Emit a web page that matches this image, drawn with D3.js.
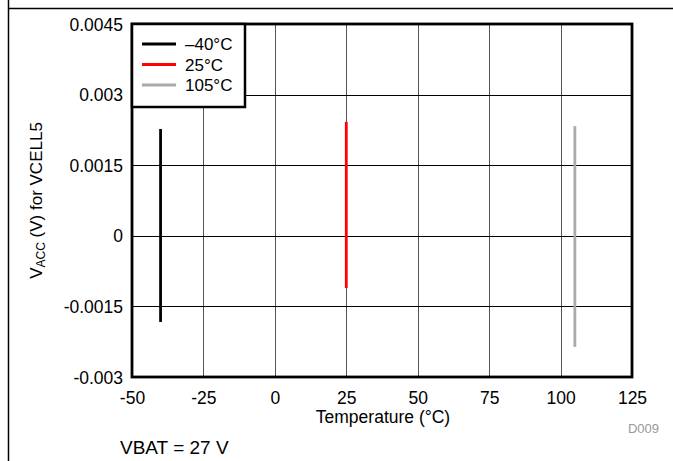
<!DOCTYPE html>
<html><head><meta charset="utf-8">
<script src="https://cdn.jsdelivr.net/npm/d3@7"></script>
<style>body{margin:0;background:#fff;} svg{display:block;font-family:"Liberation Sans",Arial,sans-serif;}</style>
</head><body>
<svg id="c" width="673" height="461"></svg>
<script>
const seriesNames = ["\u201340\u00B0C", "25\u00B0C", "105\u00B0C"];
const seriesColors = ["#000000", "#ff0000", "#aaaaaa"];
const temperatures = [-40, 25, 105];
const minValues = [-0.00183, -0.00111, -0.00236];
const maxValues = [0.00227, 0.00242, 0.00233];
const xTicks = [-50, -25, 0, 25, 50, 75, 100, 125];
const yTicks = [-0.003, -0.0015, 0, 0.0015, 0.003, 0.0045];
const yTickLabels = ["-0.003", "-0.0015", "0", "0.0015", "0.003", "0.0045"];

const svg = d3.select("#c");
const L = 132, R = 632, T = 24, B = 377;
const x = d3.scaleLinear().domain([-50, 125]).range([L, R]);
const y = d3.scaleLinear().domain([-0.003, 0.0045]).range([B, T]);
const FF = "Liberation Sans, Arial, sans-serif";

// outer frame
svg.append("line").attr("x1", 8.5).attr("x2", 8.5).attr("y1", 0).attr("y2", 461).attr("stroke", "#000").attr("stroke-width", 1.5);
svg.append("line").attr("x1", 8).attr("x2", 673).attr("y1", 8.5).attr("y2", 8.5).attr("stroke", "#000").attr("stroke-width", 1.5);

// grid
svg.append("g").selectAll("line").data(xTicks.slice(1, -1)).join("line")
  .attr("x1", d => Math.round(x(d)) + 0.5).attr("x2", d => Math.round(x(d)) + 0.5)
  .attr("y1", T).attr("y2", B).attr("stroke", "#555").attr("stroke-width", 1);
svg.append("g").selectAll("line").data(yTicks.slice(1, -1)).join("line")
  .attr("y1", d => Math.round(y(d)) + 0.5).attr("y2", d => Math.round(y(d)) + 0.5)
  .attr("x1", L).attr("x2", R).attr("stroke", "#000").attr("stroke-width", 1);

// axes tick labels via d3 axes
const xAxis = d3.axisBottom(x).tickValues(xTicks).tickSize(0).tickPadding(0).tickFormat(d => String(d));
const gx = svg.append("g").attr("transform", `translate(0,${B + 27})`).call(xAxis);
gx.select(".domain").remove();
gx.attr("font-size", null).attr("font-family", null);
gx.selectAll("text").attr("font-size", 17.5).attr("fill", "#000").attr("font-family", FF).attr("dy", "0");

const yAxis = d3.axisLeft(y).tickValues(yTicks).tickSize(0).tickPadding(0).tickFormat((d, i) => yTickLabels[i]);
const gy = svg.append("g").attr("transform", `translate(${L - 9},0)`).call(yAxis);
gy.select(".domain").remove();
gy.attr("font-size", null).attr("font-family", null);
gy.selectAll("text").attr("font-size", 17.5).attr("fill", "#000").attr("font-family", FF).attr("dy", "0.35em");

// data lines
svg.append("g").selectAll("line").data(temperatures).join("line")
  .attr("x1", d => x(d)).attr("x2", d => x(d))
  .attr("y1", (d, i) => y(maxValues[i])).attr("y2", (d, i) => y(minValues[i]))
  .attr("stroke", (d, i) => seriesColors[i]).attr("stroke-width", 2.8);

// plot border
svg.append("rect").attr("x", L).attr("y", T).attr("width", R - L).attr("height", B - T)
  .attr("fill", "none").attr("stroke", "#000").attr("stroke-width", 2.8);

// legend
const lg = svg.append("g");
lg.append("rect").attr("x", L).attr("y", T).attr("width", 113).attr("height", 83)
  .attr("fill", "#fff").attr("stroke", "#000").attr("stroke-width", 2.5);
seriesNames.forEach((n, i) => {
  const yy = T + 20 + i * 20.5;
  lg.append("line").attr("x1", L + 10).attr("x2", L + 44).attr("y1", yy).attr("y2", yy)
    .attr("stroke", seriesColors[i]).attr("stroke-width", 2.8);
  lg.append("text").attr("x", L + 53).attr("y", yy + 6).attr("font-size", 17).text(n);
});

// axis titles
svg.append("text").attr("x", 383).attr("y", 423).attr("text-anchor", "middle").attr("font-size", 17.5).text("Temperature (\u00B0C)");
const yl = svg.append("text").attr("transform", `translate(42,${(T + B) / 2}) rotate(-90)`).attr("text-anchor", "middle").attr("font-size", 17);
yl.append("tspan").text("V");
yl.append("tspan").attr("font-size", 12).attr("dy", 3).text("ACC");
yl.append("tspan").attr("dy", -3).text(" (V) for VCELL5");

svg.append("text").attr("x", 659).attr("y", 433).attr("text-anchor", "end").attr("font-size", 13).attr("fill", "#999").text("D009");
svg.append("text").attr("x", 120).attr("y", 454).attr("font-size", 19).text("VBAT = 27 V");
</script>
</body></html>
